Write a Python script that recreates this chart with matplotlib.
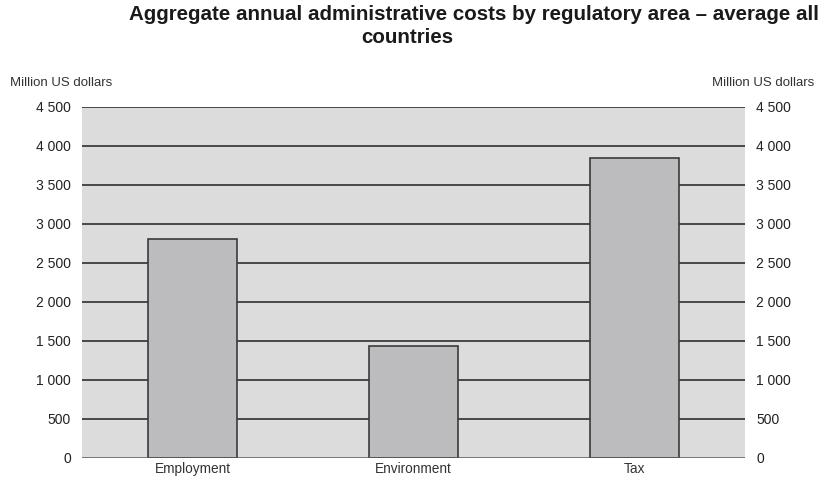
import matplotlib.pyplot as plt

plt.rcParams['font.family'] = ['Liberation Sans', 'DejaVu Sans']

# regulatory areas and average costs (million US dollars)
areas = ['Employment', 'Environment', 'Tax']
costs = [2810, 1430, 3850]
yticks = [0, 500, 1000, 1500, 2000, 2500, 3000, 3500, 4000, 4500]
ytick_labels = ['0', '500', '1 000', '1 500', '2 000', '2 500', '3 000', '3 500', '4 000', '4 500']

fig = plt.figure(figsize=(8.35, 4.83), dpi=100)
ax = fig.add_axes([0.0982, 0.0518, 0.7940, 0.7267])
ax.set_facecolor('#dcdcdd')

# horizontal rules behind the bars
for v in yticks[1:]:
    ax.axhline(v, color='#3c3c3c', lw=1.3, zorder=1)
ax.axhline(0, color='#5a5a5a', lw=1.8, zorder=3)

x = range(len(areas))
ax.bar(x, costs, width=0.4, color='#bcbcbf', edgecolor='#3a3a3a', linewidth=1.2, zorder=2)

ax.set_xlim(-0.5, 2.5)
ax.set_ylim(0, 4500)
ax.set_xticks(list(x))
ax.set_xticklabels(areas, fontsize=9.8, color='#333333')
ax.set_yticks(yticks)
ax.set_yticklabels(ytick_labels, fontsize=10, color='#222222')
ax.tick_params(axis='both', length=0, pad=8)
ax.tick_params(axis='x', pad=3)
ax.tick_params(axis='y', labelright=True)
for s in ax.spines.values():
    s.set_visible(False)

fig.text(0.012, 0.828, 'Million US dollars', fontsize=9.5, color='#333333', va='center')
fig.text(0.975, 0.828, 'Million US dollars', fontsize=9.5, color='#333333', ha='right', va='center')

fig.text(0.568, 0.971, 'Aggregate annual administrative costs by regulatory area \u2013 average all',
         fontsize=14.8, fontweight='bold', ha='center', va='center', color='#1a1a1a')
fig.text(0.488, 0.922, 'countries', fontsize=14.8, fontweight='bold', ha='center', va='center',
         color='#1a1a1a')

fig.savefig('out.png', dpi=100)
